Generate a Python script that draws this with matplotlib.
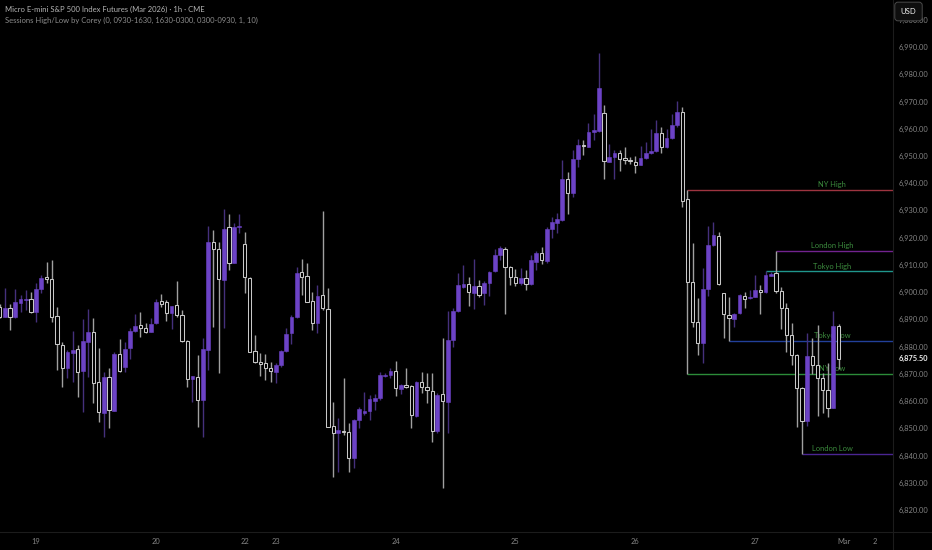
import numpy as np
import matplotlib
matplotlib.use("Agg")
import matplotlib.pyplot as plt
from matplotlib.lines import Line2D

plt.rcParams['font.family'] = ['Lato', 'DejaVu Sans']

# hourly OHLC, MES1!
opens = [6894.7, 6891.0, 6894.1, 6890.8, 6895.9, 6897.3, 6897.5, 6892.8, 6901.2, 6905.7,
         6904.8, 6891.2, 6880.6, 6872.0, 6877.8, 6879.0, 6871.2, 6881.6, 6885.2, 6866.9,
         6855.5, 6869.0, 6856.5, 6877.3, 6872.6, 6879.4, 6885.7, 6887.8, 6887.0, 6885.5,
         6888.5, 6896.6, 6896.3, 6892.2, 6895.2, 6891.6, 6882.2, 6868.1, 6869.0, 6860.4,
         6878.8, 6918.3, 6915.7, 6904.5, 6923.8, 6910.8, 6924.0, 6917.6, 6905.3, 6878.5,
         6874.5, 6873.9, 6872.0, 6870.8, 6873.3, 6878.5, 6885.1, 6890.8, 6907.3, 6905.8,
         6896.8, 6888.5, 6899.0, 6893.8, 6851.0, 6848.2, 6849.2, 6848.8, 6839.0, 6853.1,
         6855.5, 6856.5, 6860.2, 6861.0, 6869.2, 6869.6, 6871.2, 6864.3, 6865.9, 6865.7,
         6854.5, 6867.1, 6865.3, 6863.7, 6849.2, 6862.5, 6859.8, 6882.4, 6893.2, 6902.0,
         6903.0, 6899.6, 6902.4, 6899.6, 6903.5, 6907.8, 6913.6, 6915.7, 6909.4, 6905.7,
         6903.2, 6905.1, 6903.0, 6911.2, 6914.2, 6911.6, 6923.2, 6925.5, 6926.5, 6941.5,
         6936.3, 6948.9, 6954.0, 6953.4, 6958.9, 6959.3, 6965.9, 6947.9, 6949.5, 6951.0,
         6949.1, 6948.5, 6947.8, 6946.7, 6949.1, 6951.0, 6951.9, 6958.5, 6953.2, 6956.5,
         6961.4, 6966.0, 6934.1, 6903.9, 6888.9, 6881.2, 6901.2, 6917.3, 6920.6, 6899.6,
         6891.5, 6890.2, 6892.2, 6898.7, 6897.7, 6898.4, 6900.8, 6899.9, 6905.9, 6906.9,
         6900.6, 6894.1, 6884.3, 6876.9, 6864.9, 6852.8, 6876.7, 6873.3, 6868.4, 6864.1,
         6857.6, 6887.7]
highs = [6895.5, 6901.4, 6895.7, 6901.0, 6899.0, 6900.8, 6900.2, 6903.2, 6906.3, 6911.2,
         6911.8, 6894.7, 6881.8, 6878.8, 6885.7, 6880.6, 6890.0, 6893.8, 6890.4, 6879.6,
         6870.6, 6872.0, 6878.2, 6882.8, 6881.6, 6886.7, 6892.0, 6892.8, 6888.6, 6890.4,
         6897.5, 6899.3, 6897.1, 6895.0, 6904.1, 6893.5, 6882.4, 6869.2, 6876.8, 6883.3,
         6924.4, 6922.8, 6918.5, 6930.4, 6928.7, 6925.5, 6928.7, 6922.2, 6905.5, 6884.3,
         6877.8, 6877.3, 6874.2, 6874.1, 6878.8, 6886.7, 6891.6, 6909.4, 6912.0, 6910.8,
         6900.2, 6902.6, 6929.9, 6901.4, 6859.8, 6853.7, 6868.4, 6851.8, 6853.5, 6858.0,
         6863.5, 6862.2, 6862.6, 6870.8, 6870.2, 6872.0, 6874.7, 6866.3, 6872.0, 6865.9,
         6867.5, 6870.8, 6870.2, 6870.2, 6862.9, 6883.0, 6893.1, 6894.1, 6906.9, 6910.0,
         6905.4, 6912.2, 6904.5, 6904.2, 6907.9, 6915.7, 6917.0, 6916.5, 6909.7, 6908.4,
         6908.8, 6908.1, 6913.6, 6915.2, 6916.7, 6923.8, 6927.5, 6929.2, 6948.5, 6944.2,
         6952.2, 6956.1, 6955.9, 6962.0, 6965.4, 6987.7, 6968.7, 6954.3, 6952.2, 6952.2,
         6953.2, 6949.7, 6950.0, 6953.7, 6955.2, 6959.8, 6963.2, 6960.5, 6959.8, 6965.4,
         6970.2, 6967.9, 6937.5, 6917.9, 6897.7, 6908.8, 6924.3, 6925.6, 6922.2, 6899.8,
         6898.4, 6892.5, 6899.3, 6899.9, 6900.8, 6906.3, 6902.6, 6907.7, 6907.5, 6915.1,
         6902.0, 6895.9, 6888.6, 6877.2, 6865.1, 6885.1, 6883.0, 6887.9, 6870.2, 6874.1,
         6893.2, 6888.3]
lows = [6890.5, 6890.8, 6886.1, 6890.5, 6892.8, 6893.5, 6892.2, 6889.2, 6899.6, 6903.2,
        6889.2, 6871.4, 6865.3, 6868.4, 6867.1, 6861.6, 6856.1, 6869.0, 6859.2, 6852.5,
        6847.0, 6850.2, 6856.3, 6870.8, 6870.8, 6875.3, 6885.5, 6883.4, 6884.9, 6885.2,
        6888.3, 6894.7, 6889.4, 6886.5, 6891.0, 6881.8, 6865.3, 6859.8, 6850.6, 6846.7,
        6871.4, 6887.3, 6870.2, 6886.7, 6908.1, 6910.6, 6921.8, 6899.8, 6878.1, 6874.1,
        6869.3, 6867.8, 6867.1, 6866.8, 6872.7, 6878.2, 6881.0, 6890.4, 6899.0, 6896.3,
        6886.1, 6884.9, 6893.5, 6850.5, 6832.3, 6834.1, 6847.6, 6834.1, 6835.3, 6850.0,
        6854.9, 6853.1, 6856.7, 6860.4, 6868.7, 6868.4, 6861.9, 6862.6, 6864.7, 6850.0,
        6854.3, 6862.9, 6859.2, 6845.1, 6848.4, 6828.0, 6848.4, 6880.0, 6892.8, 6901.4,
        6894.9, 6893.7, 6898.1, 6895.3, 6898.7, 6907.5, 6911.8, 6891.9, 6902.6, 6902.3,
        6902.6, 6900.8, 6902.6, 6908.1, 6910.3, 6910.6, 6919.8, 6921.6, 6926.3, 6928.7,
        6935.1, 6946.1, 6950.4, 6953.2, 6955.9, 6958.9, 6941.4, 6947.7, 6941.4, 6944.6,
        6947.0, 6947.0, 6943.6, 6946.5, 6948.9, 6950.7, 6951.6, 6951.2, 6952.8, 6956.2,
        6960.8, 6931.4, 6870.0, 6887.3, 6876.9, 6873.9, 6898.7, 6917.0, 6902.6, 6883.1,
        6882.2, 6887.3, 6892.0, 6894.1, 6897.4, 6898.2, 6892.0, 6899.6, 6905.8, 6899.8,
        6886.4, 6878.2, 6873.3, 6850.4, 6840.6, 6850.9, 6870.0, 6854.5, 6855.5, 6854.3,
        6857.4, 6871.7]
closes = [6891.0, 6894.3, 6891.0, 6896.3, 6897.5, 6897.5, 6892.6, 6901.2, 6905.3, 6904.7,
          6891.0, 6880.8, 6872.0, 6878.2, 6878.9, 6870.8, 6882.1, 6885.4, 6866.5, 6855.9,
          6869.0, 6856.7, 6877.3, 6871.1, 6879.1, 6885.7, 6887.6, 6887.0, 6885.5, 6888.3,
          6896.5, 6895.8, 6892.2, 6895.0, 6891.5, 6882.1, 6868.0, 6869.2, 6860.4, 6879.1,
          6918.3, 6915.7, 6904.7, 6923.3, 6910.6, 6924.0, 6924.3, 6905.7, 6878.2, 6874.2,
          6873.5, 6872.0, 6871.1, 6873.3, 6878.5, 6884.6, 6890.8, 6907.2, 6905.4, 6896.5,
          6888.5, 6898.7, 6894.1, 6850.6, 6848.2, 6849.4, 6848.8, 6839.0, 6853.1, 6857.0,
          6856.5, 6860.7, 6861.3, 6869.6, 6869.6, 6871.2, 6864.7, 6865.9, 6865.3, 6854.9,
          6867.1, 6865.1, 6864.1, 6849.2, 6862.2, 6860.2, 6882.4, 6893.2, 6902.6, 6903.0,
          6899.9, 6902.4, 6899.0, 6903.5, 6907.5, 6913.6, 6916.1, 6909.4, 6905.4, 6903.5,
          6905.1, 6903.0, 6911.8, 6914.2, 6911.8, 6923.2, 6925.6, 6926.7, 6941.5, 6936.5,
          6948.9, 6954.0, 6953.8, 6958.9, 6959.5, 6974.8, 6948.3, 6949.5, 6951.0, 6948.9,
          6948.5, 6948.3, 6946.8, 6949.1, 6951.0, 6951.9, 6958.3, 6953.2, 6956.5, 6961.4,
          6966.3, 6933.6, 6903.9, 6889.2, 6881.2, 6901.2, 6917.3, 6921.0, 6903.0, 6891.9,
          6890.4, 6892.0, 6899.0, 6897.5, 6898.4, 6900.8, 6899.9, 6906.3, 6906.7, 6900.6,
          6894.1, 6884.3, 6876.9, 6864.7, 6852.8, 6876.7, 6873.3, 6868.4, 6864.1, 6857.6,
          6887.7, 6875.5]

# day labels (bar index where each day starts on the time axis)
day_pos = [7, 30, 47, 53, 76, 99, 122, 145, 162, 168]
day_labels = ['19', '20', '22', '23', '24', '25', '26', '27', 'Mar', '2']

# session high / low lines from the indicator
sess_names = ['NY High', 'London High', 'Tokyo High', 'Tokyo Low', 'NY Low', 'London Low']
sess_levels = [6937.5, 6915.1, 6907.65, 6882.2, 6870.0, 6840.6]
sess_start = [132, 149, 147, 140, 132, 154]
sess_colors = ['#9e3440', '#72238f', '#1f968c', '#22409a', '#2c8c39', '#4a2592']

price_ticks = list(range(6820, 7001, 10))
last_price = 6875.5

bg = '#000000'
up_col = '#6c43c6'
up_wick = '#45307c'
dn_edge = '#c8c8c8'
dn_wick = '#a0a0a0'
txt_col = '#838383'

W, H = 932, 550
fig = plt.figure(figsize=(W / 100, H / 100), dpi=100, facecolor=bg)
ax = fig.add_axes([0, 18 / H, 893 / W, 532 / H])
ax.set_facecolor(bg)

o = np.array(opens)
hi = np.array(highs)
lo = np.array(lows)
c = np.array(closes)
x = np.arange(len(o))
up = c >= o

# wicks
ax.vlines(x[up], lo[up], hi[up], color=up_wick, lw=1.0, zorder=2)
ax.vlines(x[~up], lo[~up], hi[~up], color=dn_wick, lw=1.0, zorder=2)

# bodies
bottom = np.minimum(o, c)
height = np.maximum(np.abs(c - o), 0.35)
ax.bar(x[up], height[up], bottom=bottom[up], width=0.72, color=up_col,
       edgecolor=up_col, lw=0.4, zorder=3)
ax.bar(x[~up], height[~up], bottom=bottom[~up], width=0.62, color=bg,
       edgecolor=dn_edge, lw=0.75, zorder=3)

ax.set_xlim(0.06, 171.46)
ax.set_ylim(6811.95, 7007.25)

# session lines + labels (labels sit behind the candles)
x_right = 171.46
for name, lev, st, col in zip(sess_names, sess_levels, sess_start, sess_colors):
    ax.hlines(lev, st, x_right, color=col, lw=1.0, zorder=1.5)
    ax.annotate(name, (159.75, lev), xytext=(0, 1.2), textcoords='offset points',
                ha='center', va='bottom', fontsize=5.4, color='#3c8c3e', zorder=1)

# axes / ticks
for s in ax.spines.values():
    s.set_visible(False)
ax.yaxis.tick_right()
ax.set_yticks(price_ticks)
ax.set_yticklabels([f"{v:,.2f}" for v in price_ticks])
ax.tick_params(axis='y', length=0, pad=3.8, labelsize=5.4, labelcolor=txt_col)
ax.set_xticks(day_pos)
ax.set_xticklabels(day_labels)
ax.tick_params(axis='x', length=0, pad=4.2, labelsize=5.4, labelcolor=txt_col)

# last price label
ax.annotate(f"{last_price:,.2f}", (1.0, last_price), xycoords=('axes fraction', 'data'),
            xytext=(3.8, 0), textcoords='offset points', ha='left', va='center',
            fontsize=5.4, fontweight='bold', color='#f0f0f0', annotation_clip=False)

# frame lines of the price / time scales
fig.add_artist(Line2D([893 / W, 893 / W], [0, 1], color='#1c1c1c', lw=0.8))
fig.add_artist(Line2D([0, 1], [18 / H, 18 / H], color='#1c1c1c', lw=0.8))

# header
fig.text(5 / W, 1 - 9 / H, "Micro E-mini S&P 500 Index Futures (Mar 2026) \u00b7 1h \u00b7 CME",
         ha='left', va='center', fontsize=5.5, color='#b4b4b4')
fig.text(5 / W, 1 - 20 / H, "Sessions High/Low by Corey (0, 0930-1630, 1630-0300, 0300-0930, 1, 10)",
         ha='left', va='center', fontsize=5.5, color='#8c8c8c')

fig.text(908.5 / W, 1 - 11.5 / H, "USD", ha='center', va='center', fontsize=5.6,
         color='#f2f2f2', zorder=5,
         bbox=dict(boxstyle='round,pad=0.75,rounding_size=0.4', fc='#0e0e0e', ec='#4a4a4a', lw=0.7))

fig.savefig('out.png', dpi=100, facecolor=bg)
